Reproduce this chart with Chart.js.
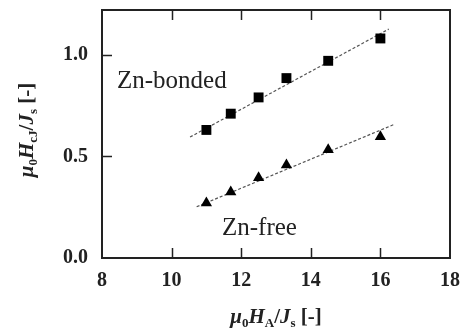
<!DOCTYPE html>
<html>
<head>
<meta charset="utf-8">
<script src="https://cdn.jsdelivr.net/npm/chart.js@4"></script>
<style>
  html, body { margin: 0; padding: 0; background: #fff; }
  #wrap { width: 465px; height: 329px; }
</style>
</head>
<body>
<div id="wrap"><canvas id="myChart"></canvas></div>
<script>
var xTicks = [8, 10, 12, 14, 16, 18];
var yTicks = [0, 0.5, 1.0];

var hA = [11.0, 11.7, 12.5, 13.3, 14.5, 16.0];
var bonded = [0.63, 0.71, 0.79, 0.885, 0.97, 1.08];
var free = [0.27, 0.325, 0.395, 0.457, 0.532, 0.596];

// dashed guide lines, end points
var bondedFitX = [10.53, 16.24];
var bondedFitY = [0.595, 1.126];
var freeFitX = [10.72, 16.38];
var freeFitY = [0.252, 0.656];

function pts(xs, ys) {
    return xs.map(function (x, i) { return {x: x, y: ys[i]}; });
}

var serif = "'Liberation Serif', 'Times New Roman', serif";

// draws the box, inward ticks, axis titles and the two labels
var decor = {
    id: 'decor',
    afterDraw: function (chart) {
        var c = chart.ctx, a = chart.chartArea;
        var xs = chart.scales.x, ys = chart.scales.y;
        c.save();
        c.strokeStyle = '#222';
        c.lineWidth = 2;
        c.strokeRect(a.left, a.top, a.right - a.left, a.bottom - a.top);
        c.lineWidth = 1.5;
        c.beginPath();
        xTicks.slice(1, -1).forEach(function (v) {
            var p = Math.round(xs.getPixelForValue(v)) + 0.5;
            c.moveTo(p, a.bottom); c.lineTo(p, a.bottom - 10);
            c.moveTo(p, a.top); c.lineTo(p, a.top + 10);
        });
        yTicks.slice(1).forEach(function (v) {
            var p = Math.round(ys.getPixelForValue(v)) + 0.5;
            c.moveTo(a.left, p); c.lineTo(a.left + 10, p);
        });
        c.stroke();

        c.fillStyle = '#222';
        c.textBaseline = 'alphabetic';
        c.font = '25px ' + serif;
        c.fillText('Zn-bonded', 117, 88);
        c.fillText('Zn-free', 222, 235);

        var xParts = [
            ['μ', 'bold italic 21px', 0], ['0', 'bold 13px', 4], ['H', 'bold italic 21px', 0],
            ['A', 'bold 13px', 4], ['/', 'bold 21px', 0], ['J', 'bold italic 21px', 0],
            ['s', 'bold 13px', 4], [' [-]', 'bold 21px', 0]
        ];
        var yParts = [
            ['μ', 'bold italic 21px', 0], ['0', 'bold 13px', 4], ['H', 'bold italic 21px', 0],
            ['cJ', 'bold 13px', 4], ['/', 'bold 21px', 0], ['J', 'bold italic 21px', 0],
            ['s', 'bold 13px', 4], [' [-]', 'bold 21px', 0]
        ];
        function drawParts(parts, cx, base) {
            var w = 0;
            parts.forEach(function (p) { c.font = p[1] + ' ' + serif; w += c.measureText(p[0]).width; });
            var x = cx - w / 2;
            parts.forEach(function (p) {
                c.font = p[1] + ' ' + serif;
                c.fillText(p[0], x, base + p[2]);
                x += c.measureText(p[0]).width;
            });
        }
        drawParts(xParts, 276, 323);
        c.translate(33, 130);
        c.rotate(-Math.PI / 2);
        drawParts(yParts, 0, 0);
        c.restore();
    }
};

var ctx = document.getElementById('myChart');
var myChart = new Chart(ctx, {
    type: 'scatter',
    data: {
        datasets: [{
            label: 'Zn-bonded',
            data: pts(hA, bonded),
            pointStyle: 'rect',
            pointRadius: 7,
            backgroundColor: '#000',
            borderColor: '#000',
            borderWidth: 0
        }, {
            label: 'Zn-free',
            data: pts(hA, free),
            pointStyle: 'triangle',
            pointRadius: 6.5,
            backgroundColor: '#000',
            borderColor: '#000',
            borderWidth: 0
        }, {
            label: 'fit bonded',
            type: 'line',
            data: pts(bondedFitX, bondedFitY),
            borderColor: '#555',
            borderWidth: 1.2,
            borderDash: [3, 2],
            pointRadius: 0,
            fill: false
        }, {
            label: 'fit free',
            type: 'line',
            data: pts(freeFitX, freeFitY),
            borderColor: '#555',
            borderWidth: 1.2,
            borderDash: [3, 2],
            pointRadius: 0,
            fill: false
        }]
    },
    options: {
        responsive: true,
        maintainAspectRatio: false,
        animation: false,
        layout: {padding: {top: 10, right: 15, left: 0, bottom: 0}},
        plugins: {
            legend: {display: false},
            tooltip: {enabled: false}
        },
        scales: {
            x: {
                type: 'linear',
                min: 8,
                max: 18,
                afterBuildTicks: function (s) { s.ticks = xTicks.map(function (v) { return {value: v}; }); },
                afterFit: function (s) { s.height = 71; s.paddingLeft = 0; s.paddingRight = 0; },
                grid: {display: false},
                border: {display: false},
                ticks: {
                    color: '#222',
                    padding: 3,
                    maxRotation: 0,
                    font: {family: serif, size: 20, weight: 'bold'}
                }
            },
            y: {
                type: 'linear',
                min: 0,
                max: 1.22,
                afterBuildTicks: function (s) { s.ticks = yTicks.map(function (v) { return {value: v}; }); },
                afterFit: function (s) { s.width = 102; s.paddingTop = 0; s.paddingBottom = 0; },
                grid: {display: false},
                border: {display: false},
                ticks: {
                    color: '#222',
                    padding: 6,
                    font: {family: serif, size: 20, weight: 'bold'},
                    callback: function (v) { return v.toFixed(1); }
                }
            }
        }
    },
    plugins: [decor]
});
</script>
</body>
</html>
